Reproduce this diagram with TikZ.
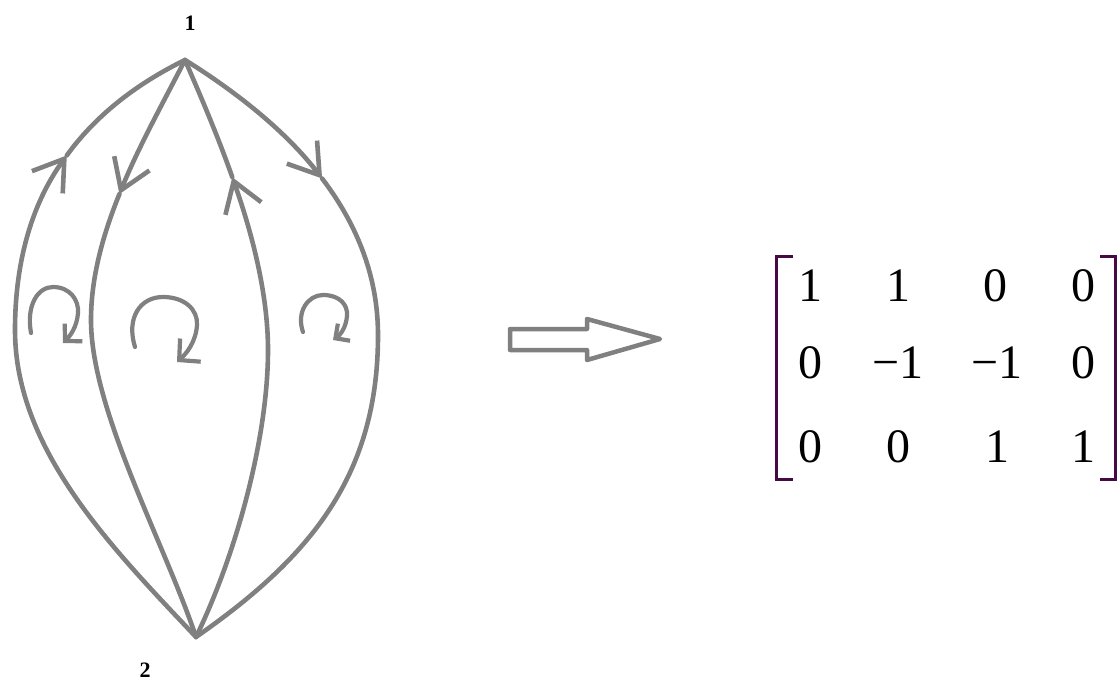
\documentclass[tikz,border=0pt]{standalone}
\usepackage{fontspec}
\setmainfont{Liberation Serif}
\usetikzlibrary{arrows.meta}
\definecolor{edgegray}{RGB}{128,128,128}
\definecolor{brk}{RGB}{70,10,70}
\begin{document}
\begin{tikzpicture}[x=1pt,y=-1pt,
  edge/.style={draw=edgegray, line width=4.6pt, line cap=round, line join=round},
  barb/.style={-{Straight Barb[length=29pt,width=38pt]}},
  loopline/.style={draw=edgegray, line width=4.2pt, line cap=round, line join=round},
  entry/.style={font=\fontsize{48}{58}\selectfont, anchor=base, inner sep=0pt},
  vlabel/.style={font=\fontsize{22}{26}\selectfont\bfseries, inner sep=0pt},
  bracket/.style={draw=brk, line width=3pt}
]
\useasboundingbox (0,0) rectangle (1117,682);

% vertices and labels
\coordinate (n1) at (185,60);
\coordinate (n2) at (196,637);
\node[vlabel] (l1) at (190,23) {1};
\node[vlabel] (l2) at (145,670) {2};

% outer left edge (2 -> 1)
\coordinate (aL) at (66.8,155.4);
\draw[edge,barb] (n2) .. controls (113,549) and (15,450) .. (15,330) .. controls (15,266.2) and (29.8,206.5) .. (aL);
\draw[edge] (aL) .. controls (93.6,118.4) and (132.1,86.0) .. (n1);

% inner left edge (1 -> 2)
\coordinate (aIL) at (119.4,194.1);
\draw[edge,barb] (n1) .. controls (163.3,102.4) and (138.2,147.6) .. (aIL);
\draw[edge] (aIL) .. controls (102.7,235.4) and (91,277.7) .. (91,320) .. controls (91,410) and (164,542) .. (n2);

% inner right edge (2 -> 1)
\coordinate (aIR) at (232.3,177.2);
\draw[edge,barb] (n2) .. controls (235,557) and (268,440) .. (268,350) .. controls (268,294) and (252,233) .. (aIR);
\draw[edge] (aIR) .. controls (216.8,133.3) and (199.1,92.6) .. (n1);

% outer right edge (1 -> 2)
\coordinate (aR) at (322.1,178.5);
\draw[edge,barb] (n1) .. controls (242.1,95.5) and (288.9,135) .. (aR);
\draw[edge] (aR) .. controls (358,225.7) and (378,277.8) .. (378,335) .. controls (378,475) and (311,557) .. (n2);

% loop orientation arrows
\draw[loopline,-{Straight Barb[length=12pt,width=25pt]}] (31,333) .. controls (26,305) and (38,287) .. (53,287) .. controls (70,287) and (79,300) .. (78,313) .. controls (77,327) and (70,336) .. (63,343);
\draw[loopline,-{Straight Barb[length=15pt,width=31pt]}] (135,347) .. controls (126,318) and (140,297) .. (163,297) .. controls (185,297) and (198,310) .. (197,325) .. controls (196,342) and (186,354) .. (177,362);
\draw[loopline,-{Straight Barb[length=10.5pt,width=21pt]}] (303,332) .. controls (296,312) and (308,295) .. (323,295) .. controls (340,295) and (348,305) .. (347,316) .. controls (346,328) and (340,335) .. (333,340);

% hollow implication arrow
\draw[edgegray, line width=4.5pt, line join=round] (510,329) -- (587,329) -- (587,319) -- (660,339) -- (587,360) -- (587,350) -- (510,350) -- cycle;

% matrix
\draw[bracket] (793,256) -- (776,256) -- (776,479) -- (793,479);
\draw[bracket] (1100,256) -- (1115,256) -- (1115,479) -- (1100,479);

\node[entry] (m11) at (810,301) {1};
\node[entry] (m12) at (898,301) {1};
\node[entry] (m13) at (995,301) {0};
\node[entry] (m14) at (1083,301) {0};
\node[entry] (m21) at (810,378) {0};
\node[entry] (m22) at (898,378) {−1};
\node[entry] (m23) at (997,378) {−1};
\node[entry] (m24) at (1083,378) {0};
\node[entry] (m31) at (810,462) {0};
\node[entry] (m32) at (898,462) {0};
\node[entry] (m33) at (997,462) {1};
\node[entry] (m34) at (1083,462) {1};
\end{tikzpicture}
\end{document}
